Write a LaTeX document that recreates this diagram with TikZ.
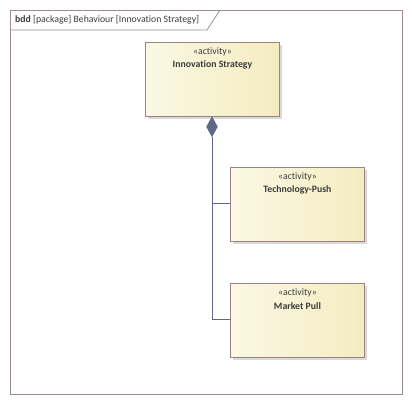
\documentclass[tikz,border=0pt]{standalone}
\usepackage{fontspec}
\setmainfont[Ligatures={NoCommon}]{Carlito}
\usetikzlibrary{shapes.geometric}
\definecolor{frameC}{HTML}{A08C8C}
\definecolor{boxC}{HTML}{9C8282}
\definecolor{fillL}{HTML}{FBF8E4}
\definecolor{fillR}{HTML}{F4ECC0}
\definecolor{lineC}{HTML}{5E6985}
\definecolor{txtC}{HTML}{3C3C3C}
\tikzset{
  actbox/.style={draw=boxC, line width=0.9bp, left color=fillL, right color=fillR,
    minimum width=134bp, minimum height=74bp, inner sep=0pt, anchor=north west},
  shadowbox/.style={fill=black!15, draw=none, minimum width=134bp, minimum height=74bp, inner sep=0pt, anchor=north west},
  conn/.style={draw=lineC, line width=0.9bp},
  lbl/.style={font=\fontsize{9.8}{11}\selectfont, text=txtC, inner sep=0pt}
}
\begin{document}
\begin{tikzpicture}[x=1bp,y=-1bp]
\useasboundingbox (0,0) rectangle (412,404);
% frame
\draw[frameC, line width=1bp] (10,10) rectangle (402,394);
\draw[frameC, line width=0.8bp] (10,30) -- (207,30) -- (220,10);
\node[lbl, anchor=west] (title) at (15,20) {\textbf{bdd} [package] Behaviour [Innovation Strategy]};
% shadows
\node[shadowbox] at (148,45) {};
\node[shadowbox] at (233,170) {};
\node[shadowbox] at (233,286) {};
% boxes
\node[actbox] (inn) at (145,42) {};
\node[actbox] (tech) at (230,167) {};
\node[actbox] (mkt) at (230,283) {};
\foreach \n/\t in {inn/Innovation Strategy, tech/Technology-Push, mkt/Market Pull}{
  \node[lbl] at ([yshift=-10bp]\n.north) {«activity»};
  \node[lbl, font=\fontsize{9.8}{11}\selectfont\bfseries] at ([yshift=-23bp]\n.north) {\t};
}
% connectors
\node[diamond, fill=lineC, draw=lineC, line width=0.5bp, inner sep=0pt, minimum width=11bp, minimum height=20bp, anchor=north] (dia) at (212,116.5) {};
\coordinate (j1) at (212,203);
\coordinate (j2) at (212,319);
\draw[conn] (dia.south) -- (j2) -- (mkt.west |- j2);
\draw[conn] (j1) -- (tech.west |- j1);
\end{tikzpicture}
\end{document}
